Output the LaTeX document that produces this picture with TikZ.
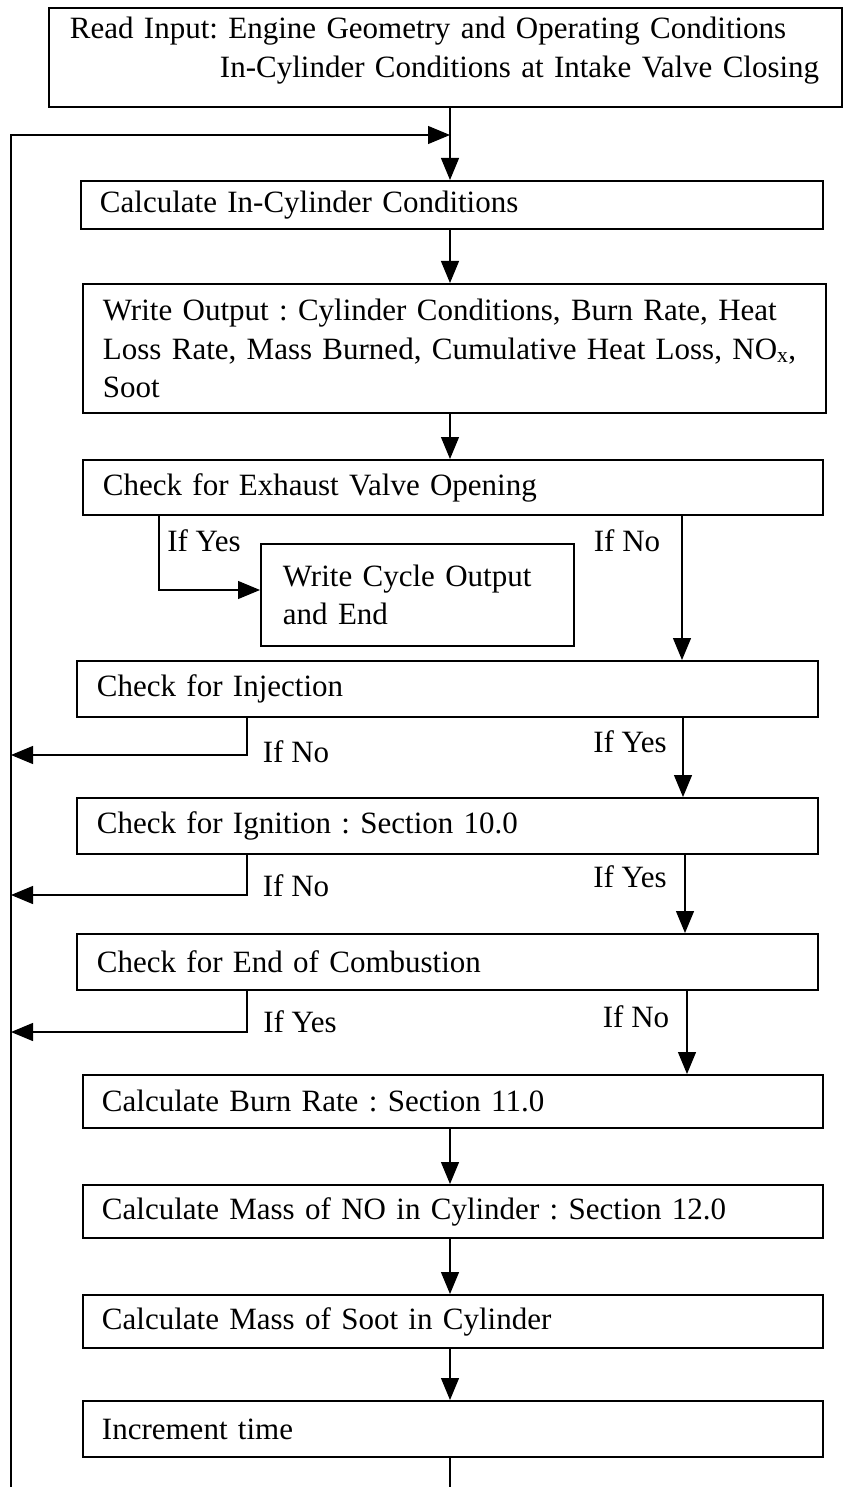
\documentclass[tikz,border=0pt]{standalone}
\usepackage{fontspec}
\setmainfont{Liberation Serif}
\frenchspacing
\usetikzlibrary{arrows.meta}

\begin{document}
\begin{tikzpicture}[
    x=1pt, y=-1pt,
    stepbox/.style={draw, line width=1.9pt, anchor=north west, align=left,
      inner xsep=19pt, inner ysep=0pt, font=\fontsize{31}{38.5}\selectfont},
    answer/.style={inner sep=0pt, font=\fontsize{31}{38.5}\selectfont},
    link/.style={line width=1.2pt},
    arrow/.style={-{Triangle[length=22pt,width=18pt]}, line width=1.2pt},
    ]
    \useasboundingbox (0,0) rectangle (843,1487);
    % main column and loop rail
    \coordinate (stem) at (450,0);
    \coordinate (tail) at (450,1487);
    \coordinate (railtop) at (11,135);
    \coordinate (railbot) at (11,1487);

    \node[stepbox, text width=751pt, minimum height=99pt, inner xsep=21pt]
    (readin) at (48,7)
    {\raisebox{7pt}[\height][\depth]{Read Input: Engine Geometry and Operating Conditions}\\
      \hspace*{150pt}\raisebox{7pt}[\height][\depth]{In-Cylinder Conditions at Intake Valve Closing}};
    \node[stepbox, text width=704pt, minimum height=48pt]
    (calccyl) at (80,180) {Calculate In-Cylinder Conditions};
    \node[stepbox, text width=703pt, minimum height=129pt, inner xsep=20pt]
    (writeout) at (82,283)
    {\mbox{Write Output : Cylinder Conditions, Burn Rate, Heat}\\
      \mbox{Loss Rate, Mass Burned, Cumulative Heat Loss, NO\textsubscript{x},}\\
      Soot};
    \node[stepbox, text width=700pt, minimum height=55pt, inner xsep=20pt]
    (evo) at (82,459) {Check for Exhaust Valve Opening};
    \node[stepbox, text width=269pt, minimum height=102pt, inner xsep=22pt]
    (cycleend) at (260,543) {Write Cycle Output\\and End};
    \node[stepbox, text width=701pt, minimum height=56pt, inner xsep=20pt]
    (inj) at (76,660) {Check for Injection};
    \node[stepbox, text width=701pt, minimum height=56pt, inner xsep=20pt]
    (ign) at (76,797) {Check for Ignition : Section 10.0};
    \node[stepbox, text width=701pt, minimum height=56pt, inner xsep=20pt]
    (eoc) at (76,933) {Check for End of Combustion};
    \node[stepbox, text width=702pt, minimum height=53pt]
    (burn) at (82,1074) {Calculate Burn Rate : Section 11.0};
    \node[stepbox, text width=702pt, minimum height=53pt]
    (nomass) at (82,1184) {Calculate Mass of NO in Cylinder : Section 12.0};
    \node[stepbox, text width=702pt, minimum height=53pt]
    (sootmass) at (82,1294) {Calculate Mass of Soot in Cylinder};
    \node[stepbox, text width=702pt, minimum height=56pt]
    (incr) at (82,1400) {Increment time};

    % branch corners
    \coordinate (evoyes) at (159,590);
    \coordinate (evono) at (682,0);
    \coordinate (injno) at (247,755);
    \coordinate (injyes) at (683,0);
    \coordinate (ignno) at (247,895);
    \coordinate (ignyes) at (685,0);
    \coordinate (eocyes) at (247,1032);
    \coordinate (eocno) at (687,0);

    % answers
    \node[answer] (evoyestxt) at (204,541) {If Yes};
    \node[answer] (evonotxt) at (627,541) {If No};
    \node[answer] (injnotxt) at (296,752) {If No};
    \node[answer] (injyestxt) at (630,742) {If Yes};
    \node[answer] (ignnotxt) at (296,886) {If No};
    \node[answer] (ignyestxt) at (630,877) {If Yes};
    \node[answer] (eocyestxt) at (300,1022) {If Yes};
    \node[answer] (eocnotxt) at (636,1017) {If No};

    % main flow
    \draw[arrow] (railbot) -- (railtop) -- (railtop -| stem);
    \draw[arrow] (readin.south -| stem) -- (calccyl.north -| stem);
    \draw[arrow] (calccyl.south -| stem) -- (writeout.north -| stem);
    \draw[arrow] (writeout.south -| stem) -- (evo.north -| stem);
    \draw[arrow] (evo.south -| evoyes) -- (evoyes) -- (evoyes -| cycleend.west);
    \draw[arrow] (evo.south -| evono) -- (inj.north -| evono);
    \draw[arrow] (inj.south -| injno) -- (injno) -- (injno -| railtop);
    \draw[arrow] (inj.south -| injyes) -- (ign.north -| injyes);
    \draw[arrow] (ign.south -| ignno) -- (ignno) -- (ignno -| railtop);
    \draw[arrow] (ign.south -| ignyes) -- (eoc.north -| ignyes);
    \draw[arrow] (eoc.south -| eocyes) -- (eocyes) -- (eocyes -| railtop);
    \draw[arrow] (eoc.south -| eocno) -- (burn.north -| eocno);
    \draw[arrow] (burn.south -| stem) -- (nomass.north -| stem);
    \draw[arrow] (nomass.south -| stem) -- (sootmass.north -| stem);
    \draw[arrow] (sootmass.south -| stem) -- (incr.north -| stem);
    \draw[link] (incr.south -| stem) -- (tail);
\end{tikzpicture}
\end{document}
